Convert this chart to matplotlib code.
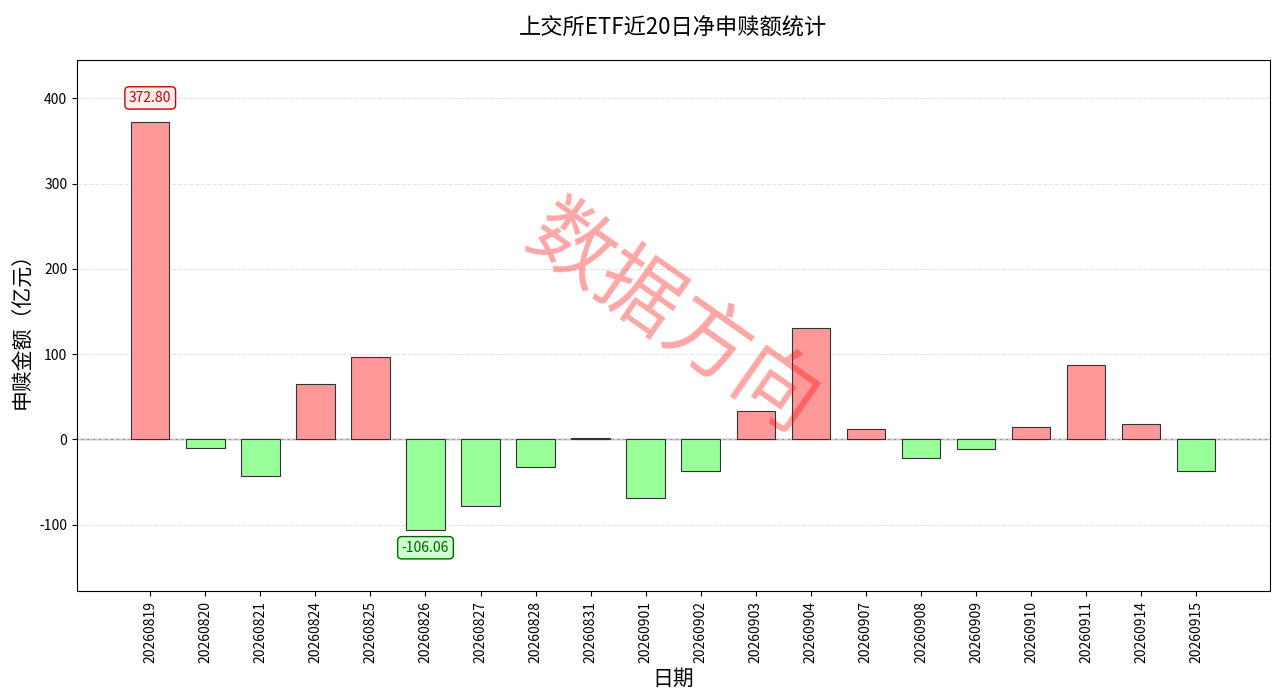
import matplotlib
matplotlib.use('Agg')
import numpy as np
from matplotlib import pyplot as plt

plt.rcParams['font.family'] = ['Noto Sans CJK SC', 'DejaVu Sans']
plt.rcParams['axes.unicode_minus'] = False

DATES = ['20260819', '20260820', '20260821', '20260824', '20260825', '20260826',
         '20260827', '20260828', '20260831', '20260901', '20260902', '20260903',
         '20260904', '20260907', '20260908', '20260909', '20260910', '20260911',
         '20260914', '20260915']
NET = [372.80, -10.0, -43.0, 64.5, 96.0, -106.06, -78.6, -33.0, 1.5, -69.0,
       -37.5, 33.0, 130.0, 12.0, -22.0, -11.0, 14.0, 87.0, 17.5, -37.5]

fig = plt.figure(figsize=(12.8, 6.96), dpi=100)
ax = fig.add_axes([77 / 1280, 1 - 591 / 696, 1193 / 1280, 531 / 696])

x = np.arange(len(DATES))
colors = ['#ff9999' if v >= 0 else '#99ff99' for v in NET]
ax.bar(x, NET, width=0.7, color=colors, edgecolor='#333333', linewidth=0.8, zorder=2)
ax.axhline(0, color='#888888', linewidth=1, zorder=1)
ax.grid(axis='y', linestyle='--', color='#dddddd', alpha=0.8, zorder=0)

ax.set_xticks(x)
ax.set_xticklabels(DATES, rotation=90, fontsize=10)
ax.tick_params(axis='y', labelsize=10)
ax.set_xlim(-1.33, len(DATES) + 0.34)
ax.set_ylim(-178, 445)

imax = int(np.argmax(NET))
imin = int(np.argmin(NET))
ax.annotate(f'{NET[imax]:.2f}', (imax, NET[imax]), xytext=(0, 17), textcoords='offset points',
            ha='center', va='center', fontsize=10, color='#cc0000',
            bbox=dict(boxstyle='round,pad=0.3', fc='#ffeeee', ec='#cc0000'))
ax.annotate(f'{NET[imin]:.2f}', (imin, NET[imin]), xytext=(0, -13), textcoords='offset points',
            ha='center', va='center', fontsize=10, color='#006600',
            bbox=dict(boxstyle='round,pad=0.3', fc='#ccffcc', ec='#006600'))

ax.set_title('上交所ETF近20日净申赎额统计', fontsize=16, pad=18)
ax.set_xlabel('日期', fontsize=15)
ax.set_ylabel('申赎金额（亿元）', fontsize=15)

fig.text(0.525, 0.54, '数据方向', fontsize=60, color='red', alpha=0.35,
         rotation=-35, ha='center', va='center')

fig.savefig('out.png', dpi=100)
